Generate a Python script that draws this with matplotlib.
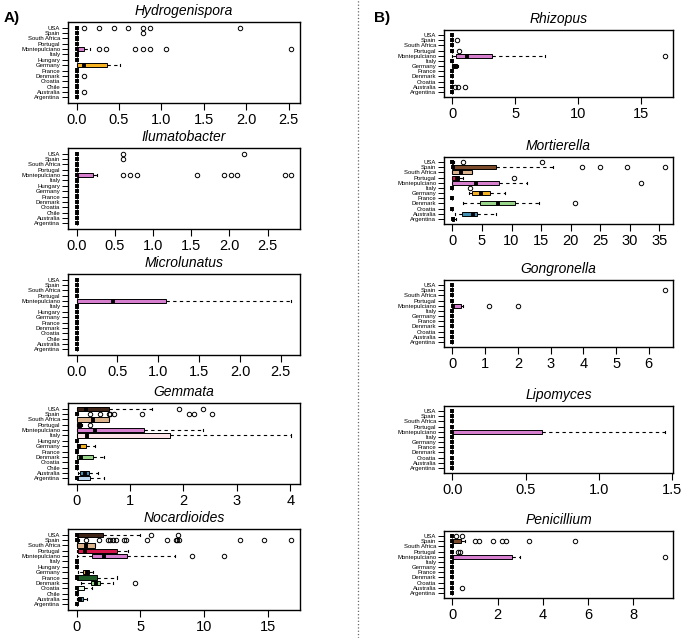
import matplotlib
matplotlib.use('Agg')
import matplotlib.pyplot as plt
from matplotlib.lines import Line2D
from matplotlib.ticker import MultipleLocator, FormatStrFormatter

plt.rcParams['font.family'] = ['Liberation Sans', 'DejaVu Sans']

# countries from bottom (position 1) to top
LEFT_COUNTRIES = ['Argentina', 'Australia', 'Chile', 'Croatia', 'Denmark', 'France',
                  'Germany', 'Hungary', 'Italy', 'Montepulciano', 'Portugal',
                  'South Africa', 'Spain', 'USA']
RIGHT_COUNTRIES = ['Argentina', 'Australia', 'Croatia', 'Denmark', 'France', 'Germany',
                   'Italy', 'Montepulciano', 'Portugal', 'South Africa', 'Spain', 'USA']

COLORS = {
    'USA': '#3e2416', 'Spain': '#7b4a2b', 'South Africa': '#dcb38a',
    'Portugal': '#d6164a', 'Montepulciano': '#d77fcf', 'Italy': '#fce4e8',
    'Hungary': '#b0b0b0', 'Germany': '#f5b223', 'France': '#1e5a26',
    'Denmark': '#98d48a', 'Croatia': '#eaf9e6', 'Chile': '#f0e68c',
    'Australia': '#3f8fb3', 'Argentina': '#bcd8f0',
}

# (whislo, q1, median, q3, whishi, outliers); countries not listed are all zero
HYDROGENISPORA = {
    'USA': (0, 0, 0, 0, 0, [0.09, 0.26, 0.44, 0.61, 0.78, 0.87, 1.92]),
    'Spain': (0, 0, 0, 0, 0, [0.78]),
    'Montepulciano': (0, 0, 0, 0.09, 0.16, [0.26, 0.35, 0.69, 0.78, 0.87, 1.05, 2.53]),
    'Germany': (0, 0, 0.09, 0.36, 0.51, []),
    'Denmark': (0, 0, 0, 0, 0, [0.09]),
    'Australia': (0, 0, 0, 0, 0, [0.09]),
}
ILUMATOBACTER = {
    'USA': (0, 0, 0, 0, 0, [0.61, 2.19]),
    'Spain': (0, 0, 0, 0, 0, [0.61]),
    'Montepulciano': (0, 0, 0, 0.22, 0.27, [0.61, 0.70, 0.79, 1.58, 1.93, 2.02, 2.10, 2.72, 2.81]),
}
MICROLUNATUS = {
    'Montepulciano': (0, 0, 0.44, 1.09, 2.63, []),
}
GEMMATA = {
    'USA': (0, 0, 0.17, 0.6, 1.41, [1.92, 2.36]),
    'Spain': (0, 0, 0, 0.01, 0.02, [0.26, 0.43, 0.6, 0.63, 0.7, 1.23, 2.11, 2.19, 2.54]),
    'South Africa': (0, 0, 0.3, 0.6, 0.6, []),
    'Portugal': (0, 0, 0.07, 0.09, 0.1, [0.26]),
    'Montepulciano': (0, 0, 0.35, 1.27, 2.36, []),
    'Italy': (0, 0, 0.2, 1.75, 4.02, []),
    'Germany': (0, 0, 0.04, 0.17, 0.35, []),
    'Denmark': (0, 0, 0.09, 0.3, 0.52, []),
    'Australia': (0.02, 0.07, 0.16, 0.24, 0.4, []),
    'Argentina': (0, 0, 0, 0.26, 0.52, []),
}
NOCARDIOIDES = {
    'USA': (0, 0, 0, 2.04, 5.0, [5.84, 7.93]),
    'Spain': (0, 0, 0, 0.1, 0.2, [0.7, 1.78, 2.46, 2.6, 2.83, 3.06, 3.69, 3.87, 5.55,
                                  7.12, 7.77, 7.9, 8.0, 12.8, 14.74, 16.86]),
    'South Africa': (0, 0, 0.71, 1.44, 1.44, []),
    'Portugal': (0, 0.13, 0.65, 3.14, 4.06, []),
    'Montepulciano': (0, 1.2, 2.12, 3.95, 7.7, [9.06, 11.6]),
    'Germany': (0.08, 0.52, 0.81, 1.0, 1.26, []),
    'France': (0, 0, 0, 1.57, 3.17, []),
    'Denmark': (0.31, 1.15, 1.52, 1.81, 2.83, [4.58]),
    'Croatia': (0, 0, 0.03, 0.58, 1.18, []),
    'Australia': (0, 0.1, 0.29, 0.47, 0.81, []),
}
RHIZOPUS = {
    'Spain': (0, 0, 0, 0, 0, [0.35]),
    'Portugal': (0, 0, 0, 0, 0, [0.48]),
    'Montepulciano': (0, 0.27, 1.17, 3.14, 7.39, [16.9]),
    'Germany': (0, 0, 0.21, 0.35, 0.4, []),
    'Australia': (0, 0, 0, 0, 0, [0.24, 0.45, 0.96]),
}
MORTIERELLA = {
    'USA': (0, 0, 0, 0.15, 0.2, [1.75, 15.2]),
    'Spain': (0, 0, 0.17, 7.34, 17.0, [22.0, 25.0, 29.6, 35.9]),
    'South Africa': (0, 0, 1.41, 3.28, 3.28, []),
    'Portugal': (0, 0, 0.79, 1.13, 1.75, [10.5]),
    'Montepulciano': (0, 0, 4.0, 7.9, 12.6, [32.0]),
    'Italy': (0, 0, 0, 0, 0, [3.05]),
    'Germany': (2.82, 3.28, 4.86, 6.38, 8.93, []),
    'Denmark': (1.86, 4.69, 7.63, 10.6, 14.7, [20.8]),
    'Australia': (0.5, 1.58, 3.45, 4.12, 7.34, []),
    'Argentina': (0, 0, 0.1, 0.22, 0.56, []),
}
GONGRONELLA = {
    'Spain': (0, 0, 0, 0, 0, [6.48]),
    'Montepulciano': (0, 0, 0.02, 0.25, 0.31, [1.11, 2.0]),
}
LIPOMYCES = {
    'Montepulciano': (0, 0, 0, 0.61, 1.45, []),
}
PENICILLIUM = {
    'USA': (0, 0, 0, 0, 0, [0.15, 0.4]),
    'Spain': (0, 0, 0, 0.38, 0.56, [0.98, 1.17, 1.8, 2.2, 2.38, 3.4, 5.44]),
    'Portugal': (0, 0, 0, 0, 0, [0.24, 0.33]),
    'Montepulciano': (0, 0, 0, 2.63, 2.97, [9.38]),
    'Australia': (0, 0, 0, 0, 0, [0.44]),
}

LEFT_PANELS = [('Hydrogenispora', HYDROGENISPORA, 0.5, 1),
               ('Ilumatobacter', ILUMATOBACTER, 0.5, 1),
               ('Microlunatus', MICROLUNATUS, 0.5, 1),
               ('Gemmata', GEMMATA, 1, 0),
               ('Nocardioides', NOCARDIOIDES, 5, 0)]
RIGHT_PANELS = [('Rhizopus', RHIZOPUS, 5, 0),
                ('Mortierella', MORTIERELLA, 5, 0),
                ('Gongronella', GONGRONELLA, 1, 0),
                ('Lipomyces', LIPOMYCES, 0.5, 1),
                ('Penicillium', PENICILLIUM, 2, 0)]

W, H = 683, 638
fig = plt.figure(figsize=(W / 100, H / 100), dpi=100)


def add_px_axes(x0, y0, x1, y1):
    return fig.add_axes([x0 / W, 1 - y1 / H, (x1 - x0) / W, (y1 - y0) / H])


def draw_panel(ax, title, data, countries, step, decimals):
    stats = []
    for c in countries:
        lo, q1, med, q3, hi, out = data.get(c, (0, 0, 0, 0, 0, []))
        stats.append(dict(whislo=lo, q1=q1, med=med, q3=q3, whishi=hi,
                          fliers=out, label=c))
    n = len(countries)
    pos = list(range(1, n + 1))
    bp = ax.bxp(stats, positions=pos, widths=0.8, orientation='horizontal',
                patch_artist=True, capwidths=0.4,
                boxprops=dict(linewidth=0.7, edgecolor='black'),
                medianprops=dict(color='black', linewidth=2.8, solid_capstyle='butt'),
                whiskerprops=dict(linestyle=(0, (3, 3)), linewidth=0.8),
                capprops=dict(linewidth=0.8),
                flierprops=dict(marker='o', markerfacecolor='none',
                                markeredgecolor='black', markersize=3.2,
                                markeredgewidth=0.7))
    for patch, c in zip(bp['boxes'], countries):
        patch.set_facecolor(COLORS[c])
    ax.margins(x=0.04)
    ax.set_ylim(0.5 - 0.04 * n, n + 0.5 + 0.04 * n)
    ax.xaxis.set_major_locator(MultipleLocator(step))
    ax.xaxis.set_major_formatter(FormatStrFormatter('%.{}f'.format(decimals)))
    ax.tick_params(axis='x', labelsize=10.5, length=5, width=0.8, pad=2)
    ax.tick_params(axis='y', labelsize=4.3, length=4, width=0.7, pad=1.5)
    for s in ax.spines.values():
        s.set_linewidth(1.0)
    ax.set_title(title, style='italic', fontsize=10, pad=5)


left_tops = [22, 148, 274, 403, 529]
for top, (title, data, step, dec) in zip(left_tops, LEFT_PANELS):
    ax = add_px_axes(68, top, 300, top + 81)
    draw_panel(ax, title, data, LEFT_COUNTRIES, step, dec)

right_tops = [30, 157, 280, 406, 531]
for top, (title, data, step, dec) in zip(right_tops, RIGHT_PANELS):
    ax = add_px_axes(444, top, 673, top + 67)
    draw_panel(ax, title, data, RIGHT_COUNTRIES, step, dec)

fig.add_artist(Line2D([358 / W, 358 / W], [0, 1], transform=fig.transFigure,
                      color='0.4', linestyle=':', linewidth=0.9))
fig.text(4 / W, 1 - 18 / H, 'A)', fontsize=11, fontweight='bold', va='center')
fig.text(374 / W, 1 - 18 / H, 'B)', fontsize=11, fontweight='bold', va='center')

fig.savefig('out.png', dpi=100)
